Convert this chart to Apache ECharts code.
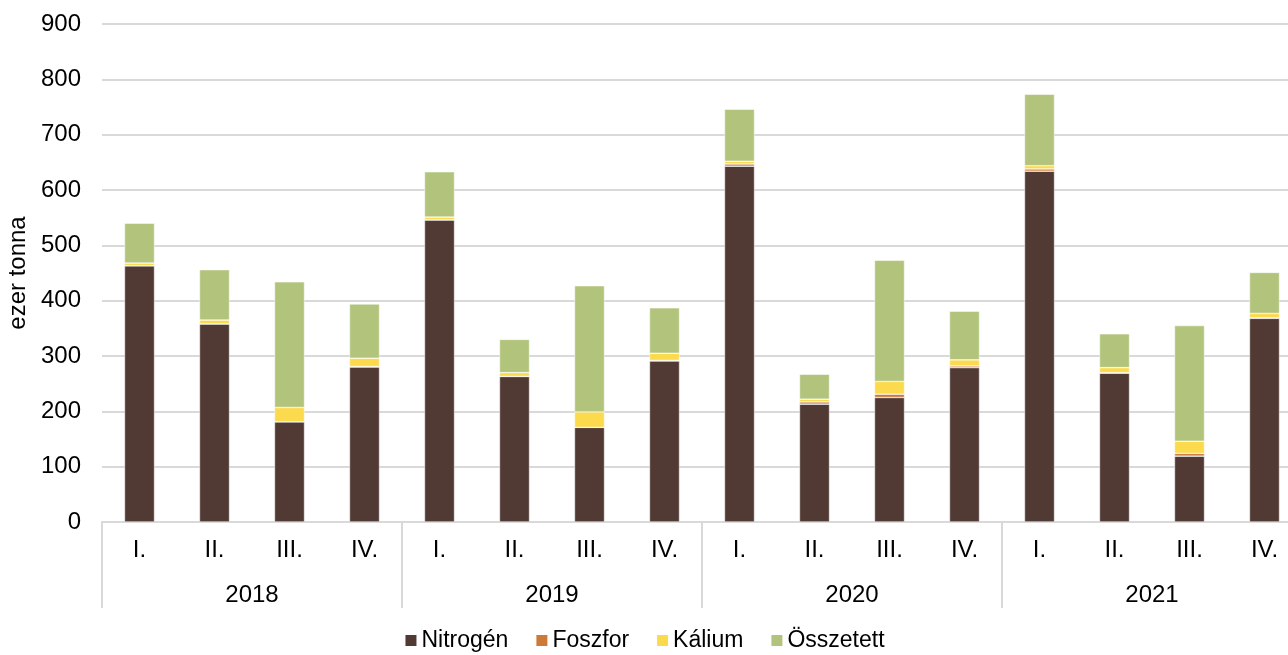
<!DOCTYPE html>
<html>
<head>
<meta charset="utf-8">
<script src="https://cdn.jsdelivr.net/npm/echarts@6/dist/echarts.min.js"></script>
<style>
  html, body { margin: 0; padding: 0; background: #fff; overflow: hidden; }
  #chart { width: 1288px; height: 655px; }
</style>
</head>
<body>
<div id="chart"></div>
<script>
// negyedévek és évek
const quarters = ['I.', 'II.', 'III.', 'IV.']
const years = ['2018', '2019', '2020', '2021']
const categories = years.flatMap(() => quarters)

// ezer tonna, negyedévenként
const nitrogen = [463, 358, 181, 280, 546, 263, 171, 291, 643, 213, 225, 279, 634, 269, 119, 368]
const foszfor = [0, 0, 0, 1, 0, 0, 0, 1, 4, 4, 6, 3, 4, 1, 5, 1]
const kalium = [5, 7, 26, 15, 5, 7, 28, 13, 5, 5, 23, 11, 6, 9, 22, 8]
const osszetett = [72, 91, 227, 98, 82, 60, 228, 82, 94, 45, 219, 88, 129, 61, 209, 74]

const seriesNames = ['Nitrogén', 'Foszfor', 'Kálium', 'Összetett']
const seriesData = [nitrogen, foszfor, kalium, osszetett]
const colors = ['#513a34', '#cc7a38', '#fcda4d', '#b2c47c']

const font = 'Liberation Sans, Arial, sans-serif'
const chart = echarts.init(document.getElementById('chart'))

const option = {
  animation: false,
  color: colors,
  textStyle: { fontFamily: font },
  // a rács jobbra kilóg az ábrából, mint az eredetin
  grid: { left: 102, width: 1200, top: 24, bottom: 133, outerBoundsMode: 'none' },
  legend: {
    top: 624,
    left: 'center',
    itemWidth: 13,
    itemHeight: 13,
    itemGap: 26,
    icon: 'rect',
    textStyle: { fontSize: 23, color: '#000', fontFamily: font, padding: [0, 0, 0, -1] },
    data: seriesNames,
  },
  xAxis: [
    {
      type: 'category',
      data: categories,
      axisLine: { lineStyle: { color: '#d9d9d9', width: 2 } },
      axisTick: { show: false },
      axisLabel: { fontSize: 24, color: '#000', margin: 16, interval: 0, fontFamily: font },
    },
    {
      type: 'category',
      data: years,
      position: 'bottom',
      axisLine: { show: false },
      axisTick: { show: true, interval: 0, length: 86, lineStyle: { color: '#d9d9d9', width: 2 } },
      axisLabel: { fontSize: 24, color: '#000', margin: 61, interval: 0, fontFamily: font },
    },
  ],
  yAxis: {
    type: 'value',
    min: 0,
    max: 900,
    interval: 100,
    name: 'ezer tonna',
    nameLocation: 'middle',
    nameGap: 69,
    nameTextStyle: { fontSize: 24, color: '#000', fontFamily: font },
    axisLine: { show: false },
    axisTick: { show: false },
    axisLabel: { fontSize: 24, color: '#000', margin: 21, fontFamily: font },
    splitLine: { lineStyle: { color: '#d9d9d9', width: 2 } },
  },
  series: seriesNames.map((name, i) => ({
    name,
    type: 'bar',
    stack: 'total',
    xAxisIndex: 0,
    barWidth: '40%',
    itemStyle: { borderColor: '#ffffff', borderWidth: 0.5 },
    data: seriesData[i],
  })),
}

chart.setOption(option)
</script>
</body>
</html>
